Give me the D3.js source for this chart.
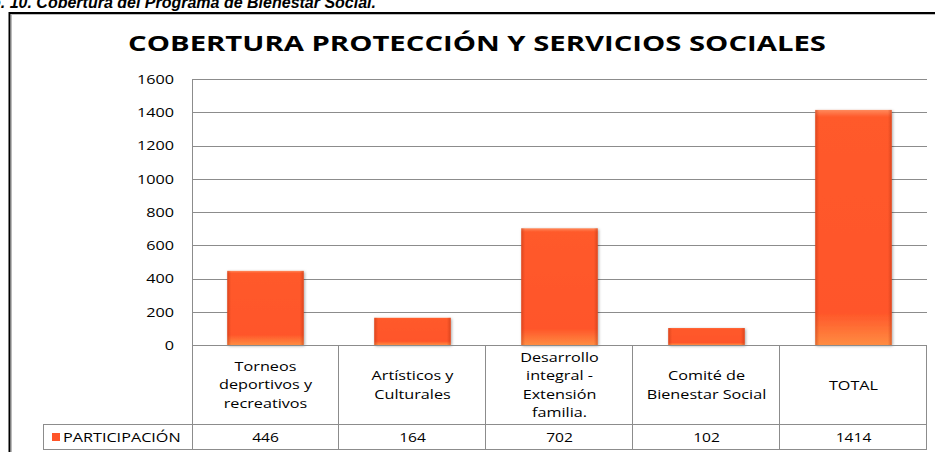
<!DOCTYPE html>
<html>
<head>
<meta charset="utf-8">
<title>Cobertura</title>
<script src="https://d3js.org/d3.v7.min.js"></script>
<style>
  body { margin: 0; background: #fff; }
  svg { display: block; }
</style>
</head>
<body>
<div id="chart"></div>
<script>
    // data
    var categories = ["Torneos deportivos y recreativos", "Artísticos y Culturales",
        "Desarrollo integral - Extensión familia.", "Comité de Bienestar Social", "TOTAL"];
    var categoryLines = [
        ["Torneos", "deportivos y", "recreativos"],
        ["Artísticos y", "Culturales"],
        ["Desarrollo", "integral -", "Extensión", "familia."],
        ["Comité de", "Bienestar Social"],
        ["TOTAL"]
    ];
    var participacion = [446, 164, 702, 102, 1414];
    var seriesName = "PARTICIPACIÓN";
    var yTicks = [0, 200, 400, 600, 800, 1000, 1200, 1400, 1600];
    var chartTitle = "COBERTURA PROTECCIÓN Y SERVICIOS SOCIALES";
    var pageCaption = "Gráfico No. 10. Cobertura del Programa de Bienestar Social.";

    var width = 935, height = 452;
    var font = "'Open Sans', 'DejaVu Sans', sans-serif";
    var gridColor = "#8c8c8c";
    var sx = 1.2; // the original text is a bit wider than Open Sans

    var svg = d3.select("#chart").append("svg")
        .attr("width", width)
        .attr("height", height);

    // places a text at (x, y) and widens it horizontally
    function wideText(parent, x, y, stretch) {
        return parent.append("text")
            .attr("transform", "translate(" + x + "," + y + ") scale(" + stretch + ",1)");
    }

    var defs = svg.append("defs");

    // bar fill: red-orange body, lighter bottom
    var grad = defs.append("linearGradient")
        .attr("id", "barFill")
        .attr("x1", 0).attr("y1", 0).attr("x2", 0).attr("y2", 1);
    grad.append("stop").attr("offset", "0%").attr("stop-color", "#ff8a5c");
    grad.append("stop").attr("offset", "3%").attr("stop-color", "#ff5a2b");
    grad.append("stop").attr("offset", "86%").attr("stop-color", "#ff5529");
    grad.append("stop").attr("offset", "100%").attr("stop-color", "#ff8c42");

    var side = defs.append("linearGradient")
        .attr("id", "barSide")
        .attr("x1", 0).attr("y1", 0).attr("x2", 1).attr("y2", 0);
    side.append("stop").attr("offset", "0%").attr("stop-color", "#b03010").attr("stop-opacity", 0.45);
    side.append("stop").attr("offset", "5%").attr("stop-color", "#b03010").attr("stop-opacity", 0);
    side.append("stop").attr("offset", "95%").attr("stop-color", "#b03010").attr("stop-opacity", 0);
    side.append("stop").attr("offset", "100%").attr("stop-color", "#b03010").attr("stop-opacity", 0.45);

    var shadow = defs.append("filter")
        .attr("id", "shadow")
        .attr("x", "-20%").attr("y", "-20%").attr("width", "140%").attr("height", "140%");
    shadow.append("feDropShadow")
        .attr("dx", 1).attr("dy", 1)
        .attr("stdDeviation", 1.5)
        .attr("flood-color", "#000")
        .attr("flood-opacity", 0.35);

    // caption cut at the top of the page
    svg.append("text")
        .attr("x", 376)
        .attr("y", 8)
        .attr("text-anchor", "end")
        .attr("font-family", "'Liberation Sans', Arial, sans-serif")
        .attr("font-size", "16px")
        .attr("font-weight", "bold")
        .attr("font-style", "italic")
        .attr("fill", "#000")
        .text(pageCaption);

    // outer frame (left and top)
    svg.append("line")
        .attr("x1", 9.5).attr("y1", 13).attr("x2", width).attr("y2", 13)
        .attr("stroke", "#000").attr("stroke-width", 2);
    svg.append("line")
        .attr("x1", 9.5).attr("y1", 12).attr("x2", 9.5).attr("y2", height)
        .attr("stroke", "#000").attr("stroke-width", 2);
    svg.append("line")
        .attr("x1", 11.5).attr("y1", 14.5).attr("x2", 11.5).attr("y2", height)
        .attr("stroke", "#bbb").attr("stroke-width", 1);
    svg.append("line")
        .attr("x1", 11).attr("y1", 14.5).attr("x2", width).attr("y2", 14.5)
        .attr("stroke", "#bbb").attr("stroke-width", 1);

    // title
    wideText(svg, 477, 51, 1.33)
        .attr("text-anchor", "middle")
        .attr("font-family", font)
        .attr("font-size", "22px")
        .attr("font-weight", "bold")
        .attr("fill", "#000")
        .text(chartTitle);

    var plotLeft = 192, plotRight = 927, plotTop = 79, plotBottom = 345;
    var catRowBottom = 424, valRowBottom = 449, legendLeft = 43;

    var y = d3.scaleLinear()
        .domain([0, 1600])
        .range([plotBottom, plotTop]);

    var x = d3.scaleBand()
        .domain(categories)
        .range([plotLeft, plotRight])
        .paddingInner(0.48)
        .paddingOuter(0.24);

    var col = d3.scaleBand()
        .domain(categories)
        .range([plotLeft, plotRight]);

    // gridlines
    svg.append("g")
        .selectAll("line")
        .data(yTicks)
        .enter().append("line")
        .attr("x1", plotLeft)
        .attr("x2", plotRight)
        .attr("y1", function (d) { return Math.round(y(d)) + 0.5; })
        .attr("y2", function (d) { return Math.round(y(d)) + 0.5; })
        .attr("stroke", gridColor)
        .attr("stroke-width", 1);

    // y axis labels
    var yAxis = svg.append("g")
        .attr("transform", "translate(" + plotLeft + ",0)")
        .call(d3.axisLeft(y).tickValues(yTicks).tickFormat(d3.format("d")).tickSize(0).tickPadding(18));
    yAxis.select(".domain").remove();
    yAxis.selectAll("text")
        .attr("x", null)
        .attr("transform", "translate(-18,0) scale(" + sx + ",1)")
        .attr("font-family", font)
        .attr("font-size", "13.5px")
        .attr("fill", "#000");

    // bars
    var bars = svg.append("g");
    bars.selectAll("rect.bar")
        .data(participacion)
        .enter().append("rect")
        .attr("class", "bar")
        .attr("x", function (d, i) { return x(categories[i]); })
        .attr("y", function (d) { return y(d); })
        .attr("width", x.bandwidth())
        .attr("height", function (d) { return y(0) - y(d); })
        .attr("fill", "url(#barFill)")
        .attr("filter", "url(#shadow)");
    bars.selectAll("rect.side")
        .data(participacion)
        .enter().append("rect")
        .attr("class", "side")
        .attr("x", function (d, i) { return x(categories[i]); })
        .attr("y", function (d) { return y(d); })
        .attr("width", x.bandwidth())
        .attr("height", function (d) { return y(0) - y(d); })
        .attr("fill", "url(#barSide)");

    // data table
    var table = svg.append("g")
        .attr("stroke", gridColor)
        .attr("stroke-width", 1)
        .attr("fill", "none");

    table.append("line")
        .attr("x1", plotLeft + 0.5).attr("x2", plotLeft + 0.5)
        .attr("y1", plotTop).attr("y2", valRowBottom + 0.5);
    table.append("line")
        .attr("x1", plotLeft).attr("x2", plotRight)
        .attr("y1", plotBottom + 0.5).attr("y2", plotBottom + 0.5);
    table.append("line")
        .attr("x1", legendLeft).attr("x2", plotRight)
        .attr("y1", catRowBottom + 0.5).attr("y2", catRowBottom + 0.5);
    table.append("line")
        .attr("x1", legendLeft).attr("x2", plotRight)
        .attr("y1", valRowBottom + 0.5).attr("y2", valRowBottom + 0.5);
    table.append("line")
        .attr("x1", legendLeft + 0.5).attr("x2", legendLeft + 0.5)
        .attr("y1", catRowBottom).attr("y2", valRowBottom + 0.5);
    table.selectAll("line.col")
        .data(categories)
        .enter().append("line")
        .attr("class", "col")
        .attr("x1", function (d) { return Math.round(col(d) + col.bandwidth()) - 0.5; })
        .attr("x2", function (d) { return Math.round(col(d) + col.bandwidth()) - 0.5; })
        .attr("y1", plotBottom)
        .attr("y2", valRowBottom + 0.5);

    // category labels
    var lineH = 18.5;
    var catGroup = svg.append("g");
    categories.forEach(function (d, i) {
        var lines = categoryLines[i];
        var cx = col(d) + col.bandwidth() / 2;
        var mid = (plotBottom + catRowBottom) / 2;
        var first = mid - (lines.length - 1) * lineH / 2 + 5;
        wideText(catGroup, cx, first, sx)
            .attr("text-anchor", "middle")
            .attr("font-family", font)
            .attr("font-size", "13.5px")
            .attr("fill", "#000")
            .selectAll("tspan")
            .data(lines)
            .enter().append("tspan")
            .attr("x", 0)
            .attr("y", function (l, k) { return k * lineH; })
            .text(function (l) { return l; });
    });

    // values row
    var valGroup = svg.append("g");
    participacion.forEach(function (d, i) {
        wideText(valGroup, col(categories[i]) + col.bandwidth() / 2, 442, sx)
            .attr("text-anchor", "middle")
            .attr("font-family", font)
            .attr("font-size", "13px")
            .attr("fill", "#000")
            .text(d);
    });

    // legend key in table
    svg.append("rect")
        .attr("x", 52).attr("y", 433)
        .attr("width", 8).attr("height", 8)
        .attr("fill", "#ff5529");
    wideText(svg, 63, 442, sx)
        .attr("font-family", font)
        .attr("font-size", "13.5px")
        .attr("fill", "#000")
        .text(seriesName);
</script>
</body>
</html>
